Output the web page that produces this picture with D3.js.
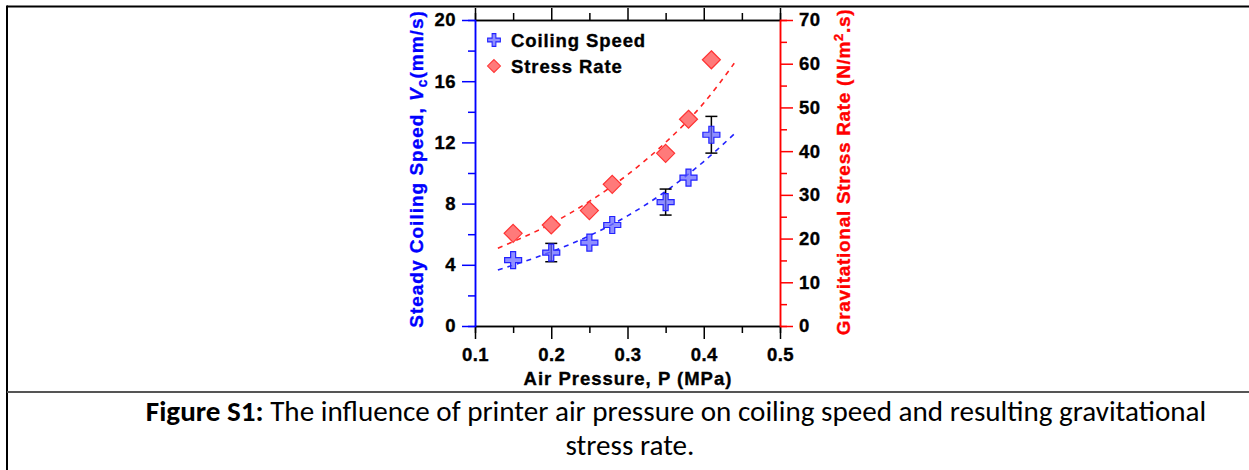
<!DOCTYPE html>
<html>
<head>
<meta charset="utf-8">
<script src="https://cdn.jsdelivr.net/npm/d3@7"></script>
<style>
  html, body { margin: 0; padding: 0; background: #fff; }
  svg { display: block; }
</style>
</head>
<body>
<div id="chart"></div>
<script>
// data
const pressure = [0.15, 0.2, 0.25, 0.28, 0.35, 0.38, 0.41];
const coilingSpeed = [4.3, 4.8, 5.45, 6.6, 8.1, 9.7, 12.5];
const coilingErr = [0, 0.6, 0, 0, 0.85, 0, 1.2];
const stressRate = [21.2, 23.1, 26.4, 32.4, 39.5, 47.3, 60.9];
// dashed trend lines
const fitP = [0.13, 0.2, 0.25, 0.3, 0.35, 0.4, 0.44];
const fitSpeed = [3.66, 4.85, 5.9, 7.2, 8.8, 10.75, 12.55];
const fitStress = [17.8, 23.4, 28.5, 34.6, 42.0, 51.0, 60.1];
const xTicks = [0.1, 0.2, 0.3, 0.4, 0.5];
const yLeftTicks = [0, 4, 8, 12, 16, 20];
const yRightTicks = [0, 10, 20, 30, 40, 50, 60, 70];

const W = 1249, H = 470;
const plot = { left: 475, right: 780, top: 20, bottom: 326 };
const font = "'Liberation Sans', Arial, sans-serif";

const svg = d3.select("#chart").append("svg")
  .attr("width", W).attr("height", H);

// frame around the figure
svg.append("line").attr("x1", 7).attr("x2", W).attr("y1", 6.5).attr("y2", 6.5)
  .attr("stroke", "#000").attr("stroke-width", 2);
svg.append("line").attr("x1", 7).attr("x2", 7).attr("y1", 5.5).attr("y2", H)
  .attr("stroke", "#000").attr("stroke-width", 2);
svg.append("line").attr("x1", 7).attr("x2", W).attr("y1", 392).attr("y2", 392)
  .attr("stroke", "#555").attr("stroke-width", 2);

const x = d3.scaleLinear().domain([0.1, 0.5]).range([plot.left, plot.right]);
const yL = d3.scaleLinear().domain([0, 20]).range([plot.bottom, plot.top]);
const yR = d3.scaleLinear().domain([0, 70]).range([plot.bottom, plot.top]);

function styleAxis(g, color) {
  g.selectAll(".domain").attr("stroke", color).attr("stroke-width", 1.5);
  g.selectAll(".tick line").attr("stroke", color).attr("stroke-width", 1.5);
  g.selectAll(".tick text").attr("fill", "#000")
    .attr("stroke", "#000").attr("stroke-width", 0.35)
    .attr("font-family", font).attr("font-weight", "bold").attr("font-size", 18.5)
    .attr("letter-spacing", 0.4);
}

// minor ticks first, majors on top
const xMinor = d3.range(0.15, 0.5, 0.1);
svg.append("g").attr("transform", `translate(0,${plot.bottom})`)
  .call(d3.axisBottom(x).tickValues(xMinor).tickSize(7).tickFormat(""))
  .call(g => styleAxis(g, "#000"));
svg.append("g").attr("transform", `translate(0,${plot.bottom})`)
  .call(d3.axisBottom(x).tickValues(xTicks).tickSize(13).tickSizeOuter(0).tickPadding(9).tickFormat(d3.format(".1f")))
  .call(g => styleAxis(g, "#000"));
svg.append("g").attr("transform", `translate(0,${plot.top})`)
  .call(d3.axisTop(x).tickValues(xMinor).tickSize(7).tickFormat(""))
  .call(g => styleAxis(g, "#000"));
svg.append("g").attr("transform", `translate(0,${plot.top})`)
  .call(d3.axisTop(x).tickValues(xTicks).tickSize(12).tickSizeOuter(0).tickFormat(""))
  .call(g => styleAxis(g, "#000"));

svg.append("g").attr("transform", `translate(${plot.left},0)`)
  .call(d3.axisLeft(yL).tickValues(d3.range(2, 20, 4)).tickSize(7).tickFormat(""))
  .call(g => styleAxis(g, "#00f"));
svg.append("g").attr("transform", `translate(${plot.left},0)`)
  .call(d3.axisLeft(yL).tickValues(yLeftTicks).tickSize(13).tickSizeOuter(0).tickPadding(6))
  .call(g => styleAxis(g, "#00f"));

svg.append("g").attr("transform", `translate(${plot.right},0)`)
  .call(d3.axisRight(yR).tickValues(d3.range(5, 70, 10)).tickSize(7).tickFormat(""))
  .call(g => styleAxis(g, "#f00"));
svg.append("g").attr("transform", `translate(${plot.right},0)`)
  .call(d3.axisRight(yR).tickValues(yRightTicks).tickSize(13).tickSizeOuter(0).tickPadding(6))
  .call(g => styleAxis(g, "#f00"));

// axis titles
svg.append("text").attr("x", 628).attr("y", 385).attr("text-anchor", "middle")
  .attr("font-family", font).attr("font-weight", "bold").attr("font-size", 18.5)
  .attr("letter-spacing", 1).attr("stroke", "#000").attr("stroke-width", 0.35)
  .text("Air Pressure, P (MPa)");

const lt = svg.append("text")
  .attr("transform", "translate(423,169) rotate(-90)").attr("text-anchor", "middle")
  .attr("font-family", font).attr("font-weight", "bold").attr("font-size", 19)
  .attr("letter-spacing", 1).attr("fill", "#00f").attr("stroke", "#00f").attr("stroke-width", 0.35);
lt.append("tspan").text("Steady Coiling Speed, ");
lt.append("tspan").attr("font-style", "italic").text("V");
lt.append("tspan").attr("font-size", 14).attr("dy", 4).text("c");
lt.append("tspan").attr("dy", -4).text("(mm/s)");

const rt = svg.append("text")
  .attr("transform", "translate(850,172) rotate(-90)").attr("text-anchor", "middle")
  .attr("font-family", font).attr("font-weight", "bold").attr("font-size", 19)
  .attr("letter-spacing", 0.7).attr("fill", "#f00").attr("stroke", "#f00").attr("stroke-width", 0.35);
rt.append("tspan").text("Gravitational Stress Rate (N/m");
rt.append("tspan").attr("font-size", 13).attr("dy", -7).text("2");
rt.append("tspan").attr("dy", 7).text(".s)");

// trend lines
const lineL = d3.line().x((d, i) => x(fitP[i])).y(d => yL(d)).curve(d3.curveMonotoneX);
const lineR = d3.line().x((d, i) => x(fitP[i])).y(d => yR(d)).curve(d3.curveMonotoneX);
svg.append("path").datum(fitStress).attr("d", lineR).attr("fill", "none")
  .attr("stroke", "#f22").attr("stroke-width", 1.6).attr("stroke-dasharray", "5,5");
svg.append("path").datum(fitSpeed).attr("d", lineL).attr("fill", "none")
  .attr("stroke", "#22f").attr("stroke-width", 1.6).attr("stroke-dasharray", "5,5");

// markers
const plusPath = "M-2.5,-8.5H2.5V-2.5H8.5V2.5H2.5V8.5H-2.5V2.5H-8.5V-2.5H-2.5Z";
const diamondPath = "M0,-9L9,0L0,9L-9,0Z";

svg.append("g").selectAll("path").data(stressRate).join("path")
  .attr("d", diamondPath)
  .attr("transform", (d, i) => `translate(${x(pressure[i])},${yR(d)})`)
  .attr("fill", "#ff7a7a").attr("stroke", "#f33").attr("stroke-width", 1.2);

const eb = svg.append("g").attr("stroke", "#000").attr("stroke-width", 1.5);
pressure.forEach((p, i) => {
  if (!coilingErr[i]) return;
  const cx = x(p), y1 = yL(coilingSpeed[i] + coilingErr[i]), y2 = yL(coilingSpeed[i] - coilingErr[i]);
  eb.append("line").attr("x1", cx).attr("x2", cx).attr("y1", y1).attr("y2", y2);
  eb.append("line").attr("x1", cx - 6).attr("x2", cx + 6).attr("y1", y1).attr("y2", y1);
  eb.append("line").attr("x1", cx - 6).attr("x2", cx + 6).attr("y1", y2).attr("y2", y2);
});

svg.append("g").selectAll("path").data(coilingSpeed).join("path")
  .attr("d", plusPath)
  .attr("transform", (d, i) => `translate(${x(pressure[i])},${yL(d)})`)
  .attr("fill", "#6a6aff").attr("fill-opacity", 0.75).attr("stroke", "#22f").attr("stroke-width", 1.2);

// legend
svg.append("path").attr("d", plusPath).attr("transform", "translate(494,40) scale(0.75)")
  .attr("fill", "#6a6aff").attr("fill-opacity", 0.75).attr("stroke", "#22f").attr("stroke-width", 1.4);
svg.append("path").attr("d", diamondPath).attr("transform", "translate(494,66) scale(0.72)")
  .attr("fill", "#ff7a7a").attr("stroke", "#f33").attr("stroke-width", 1.4);
svg.append("text").attr("x", 511).attr("y", 47).attr("font-family", font)
  .attr("font-weight", "bold").attr("font-size", 18.5).attr("letter-spacing", 0.9)
  .attr("stroke", "#000").attr("stroke-width", 0.35).text("Coiling Speed");
svg.append("text").attr("x", 511).attr("y", 73).attr("font-family", font)
  .attr("font-weight", "bold").attr("font-size", 18.5).attr("letter-spacing", 0.9)
  .attr("stroke", "#000").attr("stroke-width", 0.35).text("Stress Rate");

// caption
const capFont = "Carlito, Calibri, 'Liberation Sans Narrow', 'Open Sans', sans-serif";
const c1 = svg.append("text").attr("x", 676).attr("y", 421).attr("text-anchor", "middle")
  .attr("font-family", capFont).attr("font-size", 24).attr("fill", "#000");
c1.append("tspan").attr("font-weight", "bold").text("Figure S1:");
c1.append("tspan").text(" The influence of printer air pressure on coiling speed and resulting gravitational");
const c2 = svg.append("text").attr("x", 630).attr("y", 455).attr("text-anchor", "middle")
  .attr("font-family", capFont).attr("font-size", 24).attr("fill", "#000")
  .text("stress rate.");
// scale caption to the width it takes in the figure
const w1 = c1.node().getComputedTextLength();
const s = 1061 / w1;
c1.attr("font-size", 24 * s);
c2.attr("font-size", 24 * s);
</script>
</body>
</html>
